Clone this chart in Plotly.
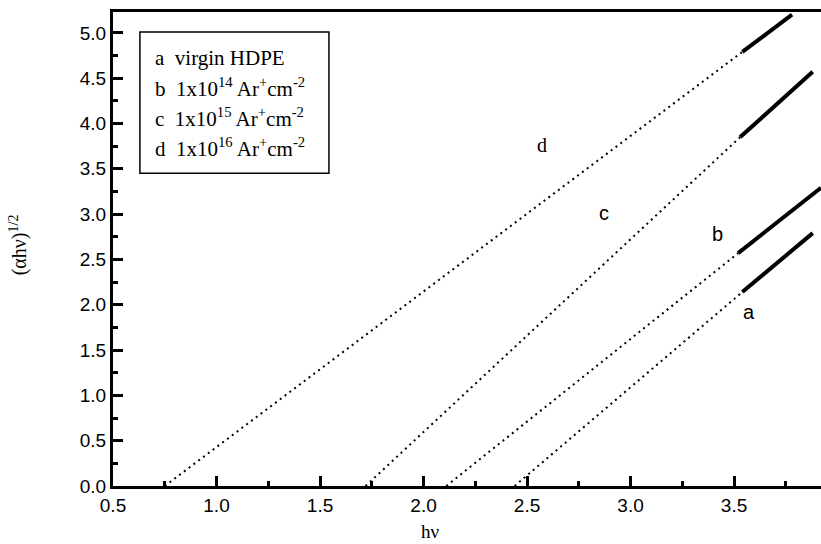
import plotly.graph_objects as go

# ---- data ----
series = ["a", "b", "c", "d"]
intercept_hv = [2.44, 2.11, 1.72, 0.75]           # dotted extrapolation start (y = 0)
fit_start_hv = [3.54, 3.52, 3.53, 3.54]
fit_start_y = [2.14, 2.57, 3.85, 4.79]
fit_end_hv = [3.88, 3.92, 3.88, 3.78]
fit_end_y = [2.79, 3.29, 4.57, 5.20]
label_hv = [3.57, 3.42, 2.87, 2.57]
label_y = [1.92, 2.78, 3.01, 3.76]
legend_texts = [
    "a&nbsp;&nbsp;virgin HDPE",
    "b&nbsp;&nbsp;1x10<sup>14</sup> Ar<sup>+</sup>cm<sup>-2</sup>",
    "c&nbsp;&nbsp;1x10<sup>15</sup> Ar<sup>+</sup>cm<sup>-2</sup>",
    "d&nbsp;&nbsp;1x10<sup>16</sup> Ar<sup>+</sup>cm<sup>-2</sup>",
]
x_ticks = [0.5, 1.0, 1.5, 2.0, 2.5, 3.0, 3.5]
y_ticks = [0.0, 0.5, 1.0, 1.5, 2.0, 2.5, 3.0, 3.5, 4.0, 4.5, 5.0]

fig = go.Figure()
for i, s in enumerate(series):
    fig.add_trace(go.Scatter(
        x=[intercept_hv[i], fit_start_hv[i]], y=[0.0, fit_start_y[i]],
        mode="lines", line=dict(color="black", width=2, dash="2px,4px"),
        showlegend=False, hoverinfo="skip"))
    fig.add_trace(go.Scatter(
        x=[fit_start_hv[i], fit_end_hv[i]], y=[fit_start_y[i], fit_end_y[i]],
        mode="lines", line=dict(color="black", width=4),
        showlegend=False, hoverinfo="skip"))

for i, s in enumerate(series):
    fam = "Liberation Serif" if s == "d" else "Liberation Sans"
    fig.add_annotation(x=label_hv[i], y=label_y[i], text=s, showarrow=False,
                       font=dict(family=fam, size=20, color="black"))

# legend box
fig.add_shape(type="rect", xref="paper", yref="paper",
              x0=0.038, x1=0.305, y0=0.660, y1=0.958,
              line=dict(color="black", width=1.5), fillcolor="white", layer="above")
row_y = [0.903, 0.840, 0.778, 0.715]
for t, yy in zip(legend_texts, row_y):
    fig.add_annotation(x=0.056, y=yy, xref="paper", yref="paper", text=t,
                       showarrow=False, xanchor="left", yanchor="middle",
                       font=dict(family="Liberation Serif", size=21, color="black"))

# axis titles
fig.add_annotation(x=0.448, y=-0.097, xref="paper", yref="paper", text="hν",
                   showarrow=False, xanchor="center", yanchor="middle",
                   font=dict(family="Liberation Serif", size=19, color="black"))
fig.add_annotation(x=-0.134, y=0.508, xref="paper", yref="paper",
                   text="(αhν)<sup>1/2</sup>", textangle=-90, showarrow=False,
                   xanchor="center", yanchor="middle",
                   font=dict(family="Liberation Serif", size=20, color="black"))

axis_common = dict(showgrid=False, zeroline=False, showline=True, linecolor="black",
                   linewidth=3, ticks="inside", ticklen=10, tickwidth=3, tickcolor="black",
                   tickfont=dict(family="Liberation Sans", size=19, color="black"))
fig.update_xaxes(range=[0.5, 3.92], tickvals=x_ticks,
                 ticktext=[f"{v:.1f}" for v in x_ticks], mirror=True,
                 minor=dict(dtick=0.25, tick0=0.5, ticks="inside", ticklen=5,
                            tickwidth=3, tickcolor="black"),
                 **axis_common)
fig.update_yaxes(range=[0, 5.23], tickvals=y_ticks,
                 ticktext=[f"{v:.1f}" for v in y_ticks], mirror=False,
                 minor=dict(dtick=0.25, tick0=0, ticks="inside", ticklen=5,
                            tickwidth=3, tickcolor="black"),
                 **axis_common)

fig.update_layout(width=821, height=544, plot_bgcolor="white", paper_bgcolor="white",
                  margin=dict(l=113, r=0, t=12, b=58), showlegend=False)

fig.write_html("out.html", config={"displayModeBar": False},
               post_script="document.body.style.margin='0';document.body.style.overflow='hidden';")
